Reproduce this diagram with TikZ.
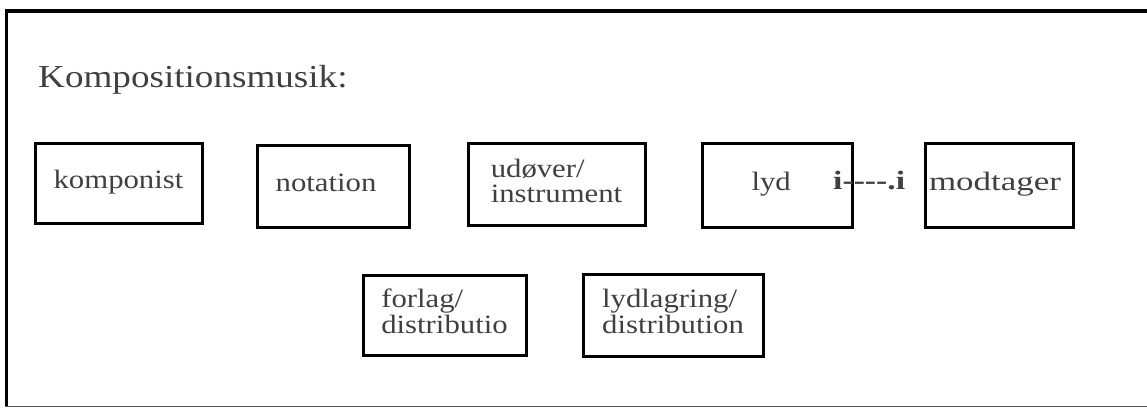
\documentclass[tikz,border=0pt]{standalone}
\usepackage{fontspec}
\setmainfont{Liberation Serif}
\usepackage{graphicx}
\definecolor{txt}{HTML}{404040}
\definecolor{bline}{HTML}{555555}
\newcommand{\wtext}[2][1.16]{\scalebox{#1}[1]{\begin{tabular}{@{}l@{}}#2\end{tabular}}}
\tikzset{
  box/.style={draw=black, line width=3pt, rectangle, inner sep=0pt, text=txt,
    font=\fontsize{26.5}{24.5}\selectfont},
  lbl/.style={inner sep=0pt, text=txt}
}
\begin{document}
\begin{tikzpicture}[x=1pt,y=1pt]
\useasboundingbox (0,0) rectangle (1147,408);
% frame
\draw[line width=4.3pt] (4.9,397) -- (1147,397);
\draw[line width=3.3pt] (6.7,399.1) -- (6.7,1);
\draw[bline, line width=1.2pt] (5,1.4) -- (1147,1.4);
% title
\node[lbl, anchor=base west, font=\fontsize{32}{36}\selectfont] (title) at (38,321) {\scalebox{1.16}[1]{Kompositionsmusik:}};
% boxes
\node[box, minimum width=167pt, minimum height=80pt] (komponist) at (118.5,225) {\wtext{komponist}};
\node[box, minimum width=152pt, minimum height=82pt] (notation) at (333,222) {\wtext{notation\hspace*{12pt}}};
\node[box, minimum width=177pt, minimum height=82pt] (udover) at (556.5,223.5) {\wtext{udøver/\\instrument}};
\node[box, minimum width=150pt, minimum height=84pt] (lyd) at (777,223) {\wtext{lyd\hspace*{10pt}}};
\node[box, minimum width=148pt, minimum height=84pt] (modtager) at (999,223) {\wtext[1.32]{modtager\hspace*{6pt}}};
\node[box, minimum width=163pt, minimum height=80pt] (forlag) at (444.5,93) {\wtext{forlag/\\distributio}};
\node[box, minimum width=180pt, minimum height=82pt] (lydlagring) at (673,93) {\wtext{lydlagring/\\distribution}};
% dotted link text
\node[lbl, anchor=base west, font=\fontsize{26.5}{30}\selectfont\bfseries] (link) at (833,219) {\scalebox{1.27}[1]{i{-}{-}{-}{-}.i}};
\end{tikzpicture}
\end{document}
